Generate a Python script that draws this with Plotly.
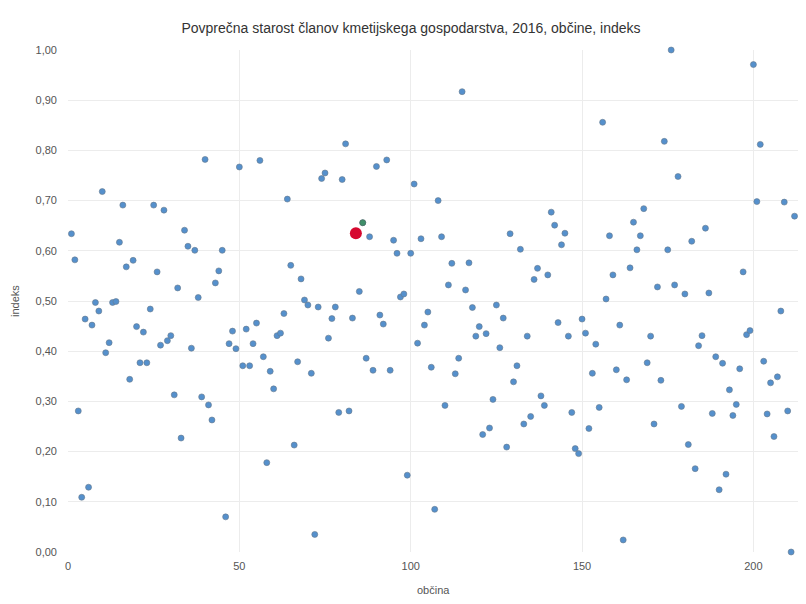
import plotly.graph_objects as go

title = "Povprečna starost članov kmetijskega gospodarstva, 2016, občine, indeks"
x_title = "občina"
y_title = "indeks"

values = [
    0.634, 0.582, 0.281, 0.109, 0.464, 0.129, 0.452, 0.497, 0.480, 0.718,
    0.397, 0.417, 0.497, 0.499, 0.617, 0.691, 0.568, 0.344, 0.581, 0.449,
    0.377, 0.438, 0.377, 0.484, 0.691, 0.558, 0.412, 0.681, 0.421, 0.431,
    0.313, 0.526, 0.227, 0.641, 0.609, 0.406, 0.601, 0.507, 0.309, 0.782,
    0.293, 0.263, 0.536, 0.560, 0.601, 0.070, 0.415, 0.440, 0.405, 0.767,
    0.371, 0.444, 0.371, 0.415, 0.456, 0.780, 0.389, 0.178, 0.360, 0.325,
    0.431, 0.436, 0.475, 0.703, 0.571, 0.213, 0.379, 0.544, 0.502, 0.492,
    0.356, 0.035, 0.488, 0.744, 0.755, 0.426, 0.465, 0.488, 0.278, 0.742,
    0.813, 0.281, 0.466, 0.635, 0.519, 0.656, 0.386, 0.628, 0.362, 0.768,
    0.472, 0.454, 0.781, 0.362, 0.621, 0.595, 0.508, 0.514, 0.153, 0.595,
    0.733, 0.416, 0.624, 0.452, 0.478, 0.368, 0.085, 0.700, 0.628, 0.292,
    0.532, 0.575, 0.355, 0.386, 0.917, 0.522, 0.576, 0.487, 0.430, 0.449,
    0.234, 0.435, 0.247, 0.304, 0.492, 0.407, 0.466, 0.209, 0.634, 0.339,
    0.371, 0.603, 0.255, 0.430, 0.270, 0.543, 0.565, 0.311, 0.292, 0.552,
    0.677, 0.651, 0.457, 0.612, 0.635, 0.430, 0.278, 0.206, 0.196, 0.464,
    0.436, 0.246, 0.356, 0.414, 0.288, 0.856, 0.504, 0.630, 0.552, 0.363,
    0.452, 0.024, 0.343, 0.566, 0.657, 0.602, 0.630, 0.684, 0.377, 0.430,
    0.255, 0.528, 0.342, 0.818, 0.602, 1.000, 0.532, 0.748, 0.290, 0.514,
    0.214, 0.619, 0.166, 0.411, 0.431, 0.645, 0.516, 0.276, 0.389, 0.124,
    0.376, 0.155, 0.323, 0.272, 0.294, 0.365, 0.558, 0.433, 0.441, 0.971,
    0.698, 0.812, 0.380, 0.275, 0.337, 0.230, 0.349, 0.480, 0.697, 0.281,
    0.000, 0.669,
]
obcine = list(range(1, len(values) + 1))

highlight_red = 84
highlight_green = 86

fig = go.Figure()
fig.add_trace(go.Scatter(
    x=obcine, y=values, mode="markers",
    marker=dict(size=6, color="#5590cc", line=dict(width=0.6, color="#66788c")),
    showlegend=False, cliponaxis=False,
))
fig.add_trace(go.Scatter(
    x=[highlight_green], y=[values[highlight_green - 1]], mode="markers",
    marker=dict(size=6, color="#3f8f6a", line=dict(width=0.6, color="#4d6b5c")),
    showlegend=False,
))
fig.add_trace(go.Scatter(
    x=[highlight_red], y=[values[highlight_red - 1]], mode="markers",
    marker=dict(size=12, color="#d6082f", line=dict(width=0)),
    showlegend=False,
))

fig.update_layout(
    width=806, height=604,
    margin=dict(l=60, r=15, t=42, b=60, autoexpand=False),
    paper_bgcolor="white", plot_bgcolor="white",
    separators=", ",
    font=dict(family="Liberation Sans, Arial, sans-serif", size=11, color="#555555"),
    title=dict(text=title, x=0.5, xanchor="center", y=0.967, yanchor="middle",
               yref="container", automargin=False,
               font=dict(size=14, color="#333333")),
    annotations=[
        dict(text=x_title, xref="paper", yref="paper", x=0.5, y=0, yshift=-38,
             xanchor="center", yanchor="middle", showarrow=False,
             font=dict(size=11, color="#555555")),
        dict(text=y_title, xref="paper", yref="paper", x=0, y=0.5, xshift=-53,
             xanchor="center", yanchor="middle", textangle=-90, showarrow=False,
             font=dict(size=11, color="#555555")),
    ],
)
fig.update_xaxes(
    range=[0, 213.3], tick0=0, dtick=50, showgrid=True, gridcolor="#ececec",
    zeroline=False, showline=False, ticks="", ticklabelstandoff=6,
    automargin=False, tickfont=dict(size=11, color="#555555"),
)
fig.update_yaxes(
    range=[0, 1.0], tick0=0, dtick=0.1, tickformat=".2f", showgrid=True,
    gridcolor="#ececec", zeroline=False, showline=False, ticks="",
    ticklabelstandoff=10, automargin=False,
    tickfont=dict(size=11, color="#555555"),
)
fig.write_html("out.html")
